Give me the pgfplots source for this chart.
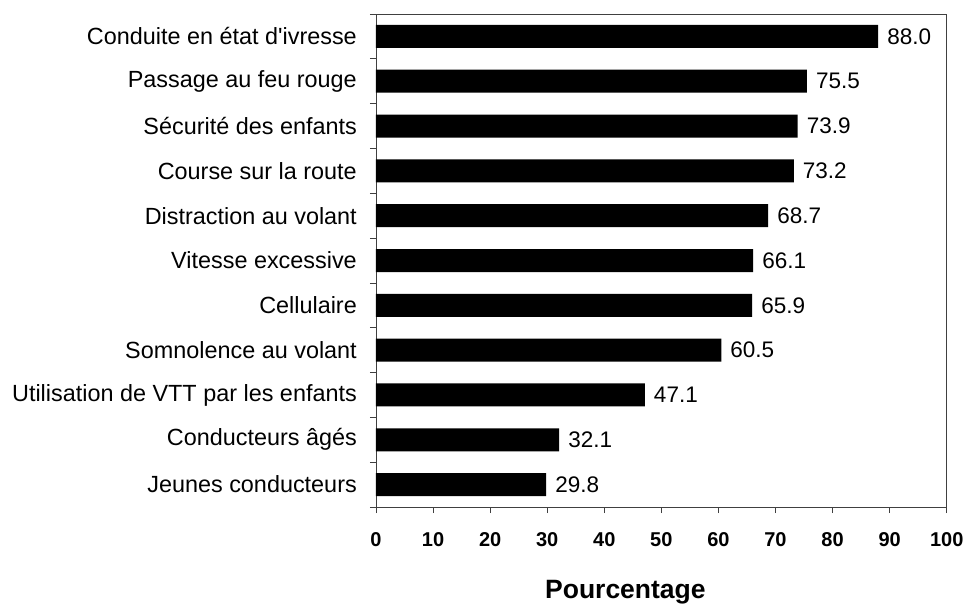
\documentclass[border=0pt]{standalone}
\usepackage{pgfplots}
\pgfplotsset{compat=1.18}
\usepackage{fontspec}
\setmainfont{Liberation Sans}[Ligatures=TeXOff]
\begin{document}
\begin{tikzpicture}
\path (-376bp,-97bp) rectangle (591bp,507bp);
\begin{axis}[
  at={(0,0)}, anchor=south west,
  scale only axis, width=570.7bp, height=493bp,
  xbar, bar width=23bp,
  xmin=0, xmax=100, ymin=0.5, ymax=11.5,
  xtick={0,10,...,100},
  ytick={1,...,11},
  yticklabels={Jeunes conducteurs, Conducteurs âgés, Utilisation de VTT par les enfants, Somnolence au volant, Cellulaire, Vitesse excessive, Distraction au volant, Course sur la route, Sécurité des enfants, Passage au feu rouge, Conduite en état d'ivresse},
  minor ytick={0.5,1.5,...,11.5},
  every major y tick/.append style={draw=none},
  xtick pos=bottom, ytick pos=left,
  tick align=outside, major tick length=6bp, minor tick length=6bp,
  axis line style={black!75, line width=0.8bp},
  every tick/.style={black!75, line width=0.8bp},
  /pgf/number format/assume math mode=true,
  ticklabel style={font=\fontsize{20bp}{24bp}\selectfont\bfseries},
  yticklabel style={font=\fontsize{23.4bp}{27bp}\selectfont, inner sep=0pt, xshift=-13bp},
  xticklabel style={yshift=-16bp},
  point meta=x,
  nodes near coords={\pgfmathprintnumber[fixed,fixed zerofill,precision=1]{\pgfplotspointmeta}},
  nodes near coords style={font=\fontsize{22.5bp}{26bp}\selectfont, anchor=west, inner sep=0pt, xshift=9bp, black},
  xlabel={Pourcentage},
  xlabel style={at={(axis description cs:0.437,0)}, anchor=base, yshift=-91bp, font=\fontsize{26.5bp}{31bp}\selectfont\bfseries},
]
\addplot[fill=black, draw=none] coordinates {
  (29.8,1) (32.1,2) (47.1,3) (60.5,4) (65.9,5) (66.1,6) (68.7,7) (73.2,8) (73.9,9) (75.5,10) (88.0,11)
};
\end{axis}
\end{tikzpicture}
\end{document}
